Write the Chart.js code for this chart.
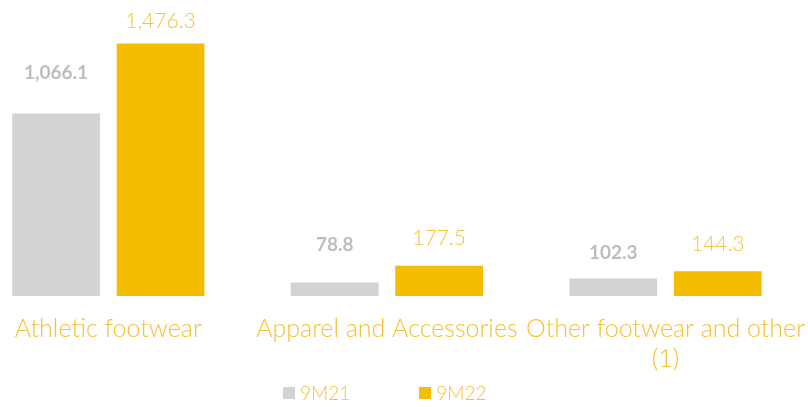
<!DOCTYPE html>
<html lang="en">
<head>
  <meta charset="UTF-8" />
  <title>Net sales by category</title>
  <script src="https://cdn.jsdelivr.net/npm/chart.js"></script>
  <style>
    html, body { margin: 0; padding: 0; background: #fff; overflow: hidden; }
    body { width: 808px; height: 407px; position: relative; font-family: Lato, "Open Sans", sans-serif; }
    /* plot is wider than the page: the first group sits near the left edge and
       the room reserved for the long last label falls off the right side */
    #wrap { position: absolute; left: -31px; top: 0; width: 854px; height: 392px; }
    #legend { position: absolute; top: 381px; left: 283px; display: flex; align-items: center; color: #f5c032; font-weight: 300; font-size: 19px; }
    #legend .item { display: flex; align-items: center; }
    #legend .box { width: 12px; height: 12px; margin-right: 5px; }
    #legend .item + .item { margin-left: 69px; }
  </style>
</head>
<body>

  <div id="wrap"><canvas id="salesChart"></canvas></div>
  <div id="legend"></div>

  <script>
    const categories = ['Athletic footwear', 'Apparel and Accessories', ['Other footwear and other', '(1)']];
    const sales9M21 = [1066.1, 78.8, 102.3];
    const sales9M22 = [1476.3, 177.5, 144.3];

    const GREY = '#d3d3d3';
    const GOLD = '#f5bd00';

    const fmt = v => v.toLocaleString('en-US', { minimumFractionDigits: 1, maximumFractionDigits: 1 });

    // value labels above each bar
    const valueLabels = {
      id: 'valueLabels',
      afterDatasetsDraw(chart) {
        const { ctx } = chart;
        chart.data.datasets.forEach((ds, i) => {
          chart.getDatasetMeta(i).data.forEach((bar, j) => {
            ctx.save();
            ctx.font = ds.labelFont;
            ctx.fillStyle = ds.labelColor;
            ctx.textAlign = 'center';
            ctx.textBaseline = 'middle';
            ctx.fillText(fmt(ds.data[j]), bar.x, bar.y - ds.labelGap[j]);
            ctx.restore();
          });
        });
      }
    };

    const datasets = [
      {
        label: '9M21', data: sales9M21, backgroundColor: GREY,
        labelColor: '#bdbdbd', labelFont: '700 19px Lato', labelGap: [41, 38, 26]
      },
      {
        label: '9M22', data: sales9M22, backgroundColor: GOLD,
        labelColor: '#f5c23a', labelFont: '300 21px Lato', labelGap: [22, 27, 27]
      }
    ];

    new Chart(document.getElementById('salesChart'), {
      type: 'bar',
      data: { labels: categories, datasets },
      options: {
        responsive: true,
        maintainAspectRatio: false,
        animation: false,
        barPercentage: 0.84,
        categoryPercentage: 0.75,
        layout: { padding: 0 },
        plugins: { legend: { display: false }, tooltip: { enabled: false } },
        scales: {
          x: {
            grid: { display: false, drawTicks: false },
            border: { display: false },
            ticks: {
              color: '#f5c032', padding: 18, maxRotation: 0, autoSkip: false,
              font: { family: 'Lato', weight: 300, size: 25, lineHeight: 1.2 }
            }
          },
          y: { display: false, min: 0, max: 1730 }
        }
      },
      plugins: [valueLabels]
    });

    // legend below the chart
    const legendEl = document.getElementById('legend');
    datasets.forEach(ds => {
      const item = document.createElement('div');
      item.className = 'item';
      item.innerHTML = `<span class="box" style="background:${ds.backgroundColor}"></span><span>${ds.label}</span>`;
      legendEl.appendChild(item);
    });
  </script>
</body>
</html>
